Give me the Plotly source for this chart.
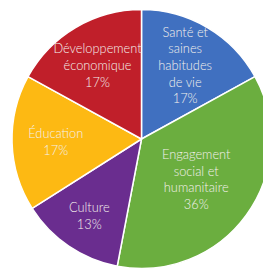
import plotly.graph_objects as go

labels = ["Santé et<br>saines<br>habitudes<br>de vie", "Engagement<br>social et<br>humanitaire", "Culture", "Éducation", "Développement<br>économique"]
values = [17, 36, 13, 17, 17]
colors = ["#4070C0", "#6BAE3F", "#6A2D8F", "#FDB913", "#C01F2A"]

fig = go.Figure(go.Pie(
    labels=labels,
    values=values,
    sort=False,
    direction="clockwise",
    rotation=0,
    marker=dict(colors=colors, line=dict(color="white", width=1.5)),
    texttemplate="%{label}<br>%{value}%",
    textposition="inside",
    insidetextorientation="horizontal",
    textfont=dict(family="Lato, sans-serif", size=12.8, color="#F4F0EC", weight=300),
    hoverinfo="none",
    showlegend=False,
))
# page has an 8px body margin, so the figure is sized to fit the window
fig.update_layout(
    width=263, height=267,
    margin=dict(l=4, r=0, t=1, b=6),
    paper_bgcolor="white",
    uniformtext=dict(minsize=12.8, mode="show"),
)
fig.write_html("out.html")
